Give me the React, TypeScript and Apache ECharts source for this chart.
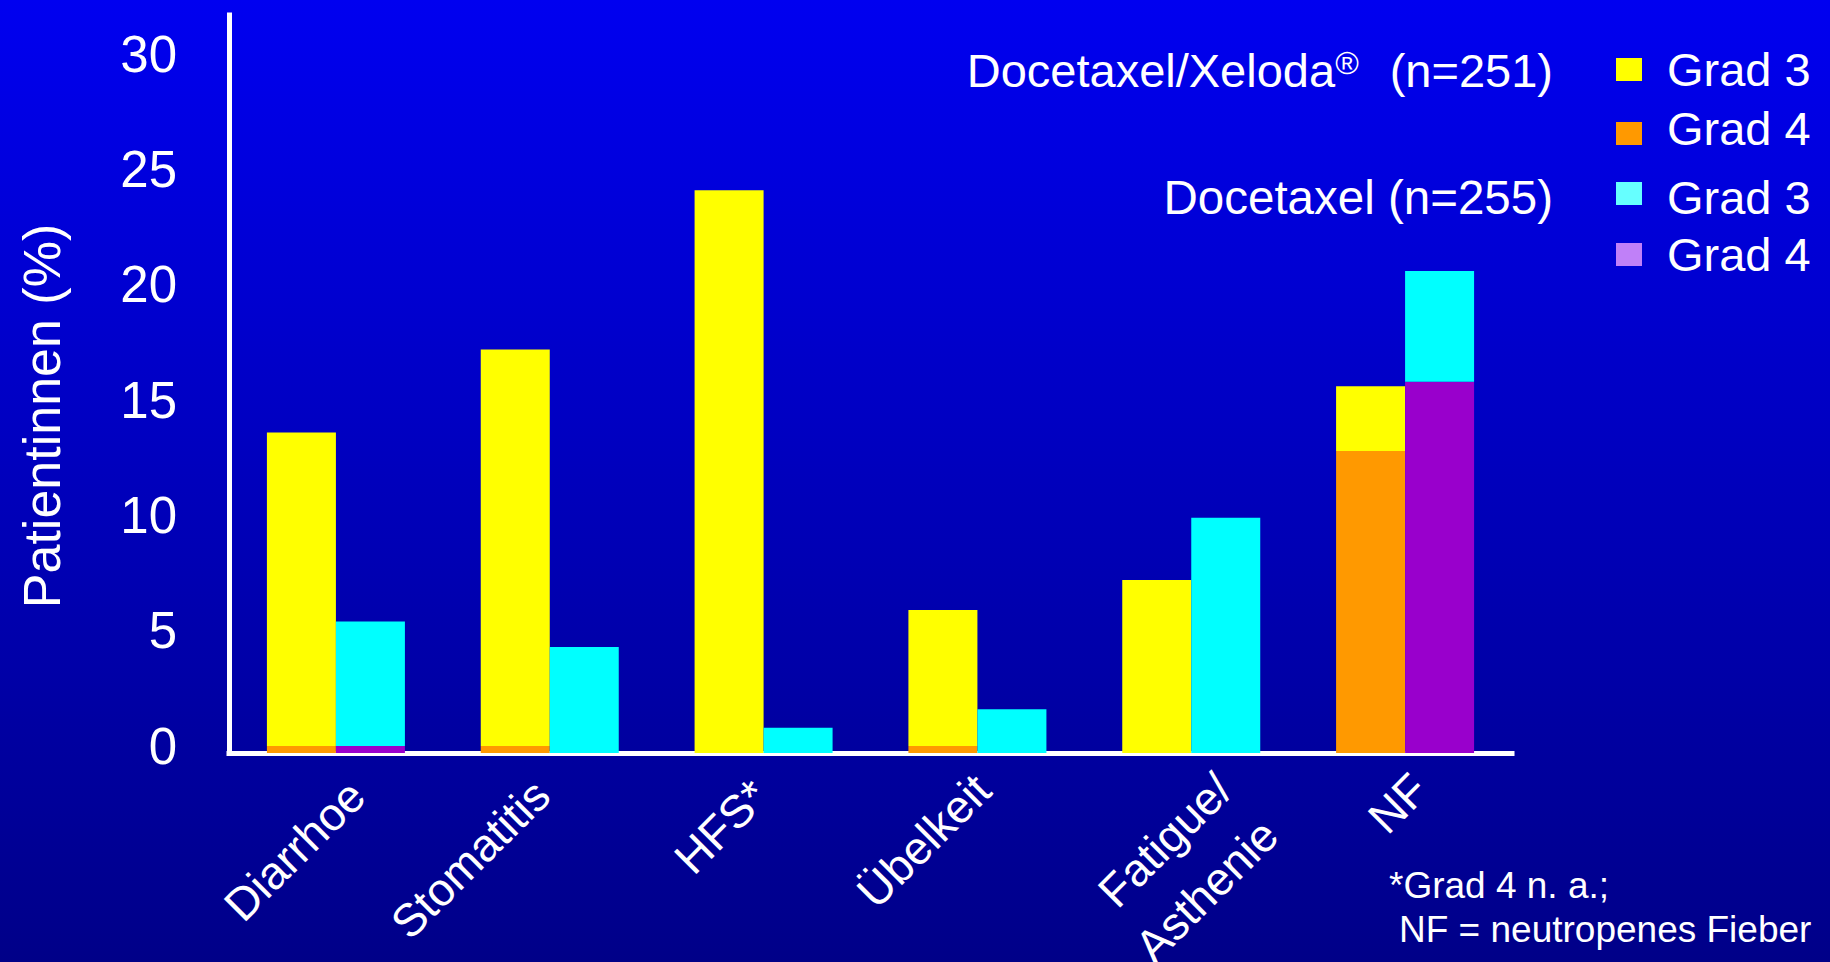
import React, { useEffect, useRef } from 'react';
import * as echarts from 'echarts';

// ---- data ----
const categories = ['Diarrhoe', 'Stomatitis', 'HFS*', 'Übelkeit', 'Fatigue/\nAsthenie', 'NF'];
const xelodaGrad3 = [13.6, 17.2, 24.4, 5.9, 7.5, 2.8];
const xelodaGrad4 = [0.3, 0.3, 0, 0.3, 0, 13.1];
const docetaxelGrad3 = [5.4, 4.6, 1.1, 1.9, 10.2, 4.8];
const docetaxelGrad4 = [0.3, 0, 0, 0, 0, 16.1];
const yTickLabels = [0, 5, 10, 15, 20, 25, 30];

const groupTitles = ['Docetaxel/Xeloda', 'Docetaxel (n=255)'];
const legendLabels = ['Grad 3', 'Grad 4', 'Grad 3', 'Grad 4'];
const legendColors = ['#FFFF00', '#FF9900', '#66FFFF', '#C080F8'];
const footnotes = ['*Grad 4 n. a.;', 'NF = neutropenes Fieber'];

// ---- styling ----
const FONT = '"Liberation Sans", Arial, Helvetica, sans-serif';
const WHITE = '#FFFFFF';
const barColors = { xel3: '#FFFF00', xel4: '#FF9900', doc3: '#00FFFF', doc4: '#9900CC' };

// per-category label nudges: [top padding, right padding]
const labelNudge = [
  [89, 15],
  [47, 35],
  [54, 32],
  [58, 22],
  [161, 2],
  [71, 15],
];
const legendRowY = [58, 122, 182, 243];
const legendTextY = [69.5, 128, 197, 254];

const xRich: Record<string, any> = {};
labelNudge.forEach(([t, r], i) => {
  xRich['l' + i] = {
    color: WHITE,
    fontSize: 46,
    fontFamily: FONT,
    lineHeight: 65,
    padding: [t, r, 0, 0],
  };
});

function buildOption() {
  const barBase = {
    type: 'bar' as const,
    barWidth: 69,
    barGap: '0%',
    emphasis: { disabled: true },
  };

  const graphic: any[] = [
    {
      type: 'text',
      x: 42,
      y: 416,
      rotation: Math.PI / 2,
      style: {
        text: 'Patientinnen (%)',
        fill: WHITE,
        fontSize: 52,
        fontFamily: FONT,
        align: 'center',
        verticalAlign: 'middle',
      },
    },
    {
      type: 'text',
      x: 1553,
      y: 70,
      style: {
        text: `{a|${groupTitles[0]}}{s|®}{b|(n=251)}`,
        fill: WHITE,
        fontSize: 47,
        fontFamily: FONT,
        align: 'right',
        verticalAlign: 'middle',
        rich: {
          a: { fill: WHITE, fontSize: 47, fontFamily: FONT },
          s: { fill: WHITE, fontSize: 32, fontFamily: FONT, verticalAlign: 'top' },
          b: { fill: WHITE, fontSize: 47, fontFamily: FONT, padding: [0, 0, 0, 31] },
        },
      },
    },
    {
      type: 'text',
      x: 1553,
      y: 197,
      style: {
        text: groupTitles[1],
        fill: WHITE,
        fontSize: 47.5,
        fontFamily: FONT,
        align: 'right',
        verticalAlign: 'middle',
      },
    },
    {
      type: 'text',
      x: 1389,
      y: 885,
      style: {
        text: footnotes[0],
        fill: WHITE,
        fontSize: 37,
        fontFamily: FONT,
        align: 'left',
        verticalAlign: 'middle',
      },
    },
    {
      type: 'text',
      x: 1399,
      y: 929,
      style: {
        text: footnotes[1],
        fill: WHITE,
        fontSize: 37,
        fontFamily: FONT,
        align: 'left',
        verticalAlign: 'middle',
      },
    },
  ];

  legendLabels.forEach((label, i) => {
    graphic.push({
      type: 'rect',
      shape: { x: 1616, y: legendRowY[i], width: 26, height: 23 },
      style: { fill: legendColors[i] },
    });
    graphic.push({
      type: 'text',
      x: 1667,
      y: legendTextY[i],
      style: {
        text: label,
        fill: WHITE,
        fontSize: 47,
        fontFamily: FONT,
        align: 'left',
        verticalAlign: 'middle',
      },
    });
  });

  return {
    animation: false,
    backgroundColor: 'transparent',
    grid: {
      left: 229,
      right: 318,
      top: 15,
      bottom: 209,
      containLabel: false,
      outerBoundsMode: 'none',
    },
    xAxis: {
      type: 'category',
      data: categories,
      offset: 3,
      axisLine: { show: true, lineStyle: { color: WHITE, width: 5, cap: 'square' } },
      axisTick: { show: false },
      splitLine: { show: false },
      axisLabel: {
        interval: 0,
        rotate: 45,
        margin: -10,
        color: WHITE,
        fontSize: 46,
        fontFamily: FONT,
        formatter: (value: string, index: number) =>
          value
            .split('\n')
            .map((part) => `{l${index}|${part}}`)
            .join('\n'),
        rich: xRich,
      },
    },
    yAxis: {
      type: 'value',
      min: 0,
      max: 32,
      interval: 5,
      axisLine: { show: true, lineStyle: { color: WHITE, width: 5, cap: 'square' } },
      axisTick: { show: false },
      splitLine: { show: false },
      axisLabel: {
        color: WHITE,
        fontSize: 51,
        fontFamily: FONT,
        margin: 52,
        formatter: (v: number) => (yTickLabels.includes(v) ? `{v|${v}}` : ''),
        rich: {
          v: {
            color: WHITE,
            fontSize: 51,
            fontFamily: FONT,
            lineHeight: 60,
            padding: [0, 0, 14, 0],
          },
        },
      },
    },
    series: [
      { ...barBase, name: 'Grad 4', stack: 'xeloda', data: xelodaGrad4, itemStyle: { color: barColors.xel4 } },
      { ...barBase, name: 'Grad 3', stack: 'xeloda', data: xelodaGrad3, itemStyle: { color: barColors.xel3 } },
      { ...barBase, name: 'Grad 4', stack: 'docetaxel', data: docetaxelGrad4, itemStyle: { color: barColors.doc4 } },
      { ...barBase, name: 'Grad 3', stack: 'docetaxel', data: docetaxelGrad3, itemStyle: { color: barColors.doc3 } },
    ],
    graphic,
  };
}

export default function App() {
  const ref = useRef<HTMLDivElement>(null);

  useEffect(() => {
    if (!ref.current) return;
    const chart = echarts.init(ref.current, undefined, { renderer: 'svg' });
    chart.setOption(buildOption() as any);
    return () => {
      chart.dispose();
    };
  }, []);

  return (
    <div
      ref={ref}
      style={{
        position: 'fixed',
        left: 0,
        top: 0,
        width: 1830,
        height: 962,
        background: 'linear-gradient(to bottom, #0000F0 0%, #000088 100%)',
      }}
    />
  );
}
